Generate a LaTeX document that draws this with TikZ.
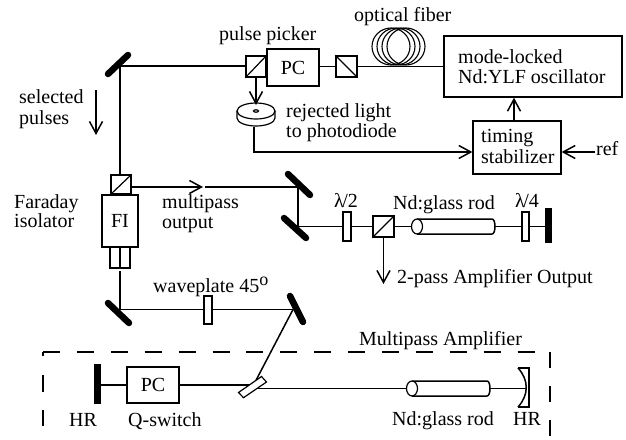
\documentclass[tikz,border=0pt]{standalone}
\usepackage{fontspec}
\setmainfont{Liberation Serif}
\usetikzlibrary{arrows.meta}
\tikzset{
 x=1pt,y=-1pt,
 beam/.style={line width=1.5pt},
 thin line/.style={line width=1.2pt},
 frame/.style={draw,line width=1.3pt,fill=white,inner sep=0pt,font=\fontsize{20}{20}\selectfont},
 lab/.style={inner sep=0pt,anchor=base west,font=\fontsize{20}{20}\selectfont},
 tip/.style={-{Straight Barb[length=12pt,width=13pt,line width=1.5pt]}},
 mirror/.style={line width=6.5pt,line cap=round},
 bar/.style={line width=7pt},
 dashseg/.style={line width=1.6pt},
 rod/.pic={
  \draw[line width=1.5pt,fill=white] (0,-7.5) -- (#1-2,-7.5) .. controls (#1+2,-7.5) and (#1+2,7.5) .. (#1-2,7.5) -- (0,7.5);
  \draw[line width=1.2pt,fill=white] (0,0) ellipse (5.5 and 7.5);
 }
}
\begin{document}
\begin{tikzpicture}
\useasboundingbox (0,0) rectangle (626,439);
% top line
\coordinate (m1) at (120,66);
\coordinate (m2) at (120,309.5);
\coordinate (m3) at (293,309.5);
\coordinate (m4) at (298,187);
\coordinate (m5) at (298,226.5);
\node[frame,minimum width=20pt,minimum height=21pt] (c1) at (256,66.5) {};
\node[frame,minimum width=52pt,minimum height=37pt] (pc1) at (293,67.5) {PC};
\node[frame,minimum width=21pt,minimum height=21pt] (c2) at (346.5,66.5) {};
\draw[thin line] (c1.south west) -- (c1.north east);
\draw[thin line] (c2.north west) -- (c2.south east);
\node[frame,minimum width=178pt,minimum height=61pt] (osc) at (533,66.5) {};
\node[frame,minimum width=88pt,minimum height=53pt] (ts) at (517,147.5) {};
\draw[mirror] (108,74) -- (128,55);
\draw[beam] (m1) -- (c1.west |- m1);
\draw[beam] (pc1.east |- c2.east) -- (c2.west);
\foreach \x in {391,396,401,406} \draw[line width=1.1pt] (\x,46.5) ellipse (19 and 18.5);
\draw[beam] (c2.east) -- (osc.west);
% photodiode
\draw[thin line] (237,111) -- (237,118) arc[start angle=180,end angle=0,x radius=19,y radius=8] -- (275,118) -- (275,111);
\draw[thin line,fill=white] (256,111) coordinate (pd) ellipse (19 and 8);
\draw[thin line] (256,111) ellipse (2.5 and 1.2);
\draw[beam,tip] (c1.south) -- (pd |- 0,105);
\coordinate (pdb) at (254,127);
\coordinate (ts1) at (ts.west |- 0,152);
\draw[beam,tip] (pdb) -- (pdb |- ts1) -- (ts1);
\draw[beam,tip] (ts.north -| 514,0) -- (osc.south -| 514,0);
\coordinate (refe) at (595,152);
\draw[beam,tip] (refe) -- (ts.east |- refe);
% texts top
\node[lab] at (219,40) {pulse picker};
\node[lab] at (354,21) {optical fiber};
\node[lab] at (286,117) {rejected light};
\node[lab] at (286,137) {to photodiode};
\node[lab] at (458,63) {mode-locked};
\node[lab] at (458,83) {Nd:YLF oscillator};
\node[lab] at (481,142) {timing};
\node[lab] at (481,163) {stabilizer};
\node[lab] at (596,155) {ref};
\node[lab] at (19,103) {selected};
\node[lab] at (19,124) {pulses};
\node[lab] at (14,208) {Faraday};
\node[lab] at (14,227) {isolator};
\node[lab] at (162,208) {multipass};
\node[lab] at (162,228) {output};
% selected arrow
\coordinate (sa) at (96,90);
\coordinate (sb) at (96,135);
\draw[beam,tip] (sa) -- (sb);
% FI
\node[frame,minimum width=20pt,minimum height=19pt] (c3) at (121,184.5) {};
\draw[thin line] (c3.south west) -- (c3.north east);
\node[frame,minimum width=36pt,minimum height=52pt] (fi) at (120,221) {FI};
\node[frame,minimum width=20pt,minimum height=21pt] (fib) at (120,257.5) {};
\draw[thin line] (fib.north) -- (fib.south);
\draw[beam] (m1) -- (c3.north -| m1);
% multipass output line
\coordinate (ma) at (203,187);
\coordinate (mb) at (205,187);
\draw[beam,tip] (c3.east |- ma) -- (ma);
\draw[beam] (mb) -- (m4) -- (m5);
\draw[mirror] (288,174) -- (310,195);
\draw[mirror] (284,218) -- (306,238);
% 2-pass arm
\node[frame,minimum width=8pt,minimum height=29pt] (wp2) at (347,226.5) {};
\node[frame,minimum width=21pt,minimum height=21pt] (c4) at (383.5,226.5) {};
\draw[thin line] (c4.south west) -- (c4.north east);
\node[frame,minimum width=7pt,minimum height=29pt] (wp4) at (525.5,226.5) {};
\coordinate (rod1) at (417,226.5);
\coordinate (bar1) at (548.5,226.5);
\draw[beam] (m5) -- (wp2.west);
\draw[beam] (wp2.east) -- (c4.west);
\draw[beam] (c4.east) -- (rod1);
\draw[beam] (rod1) -- (wp4.west);
\draw[beam] (wp4.east) -- (bar1);
\pic at (rod1) {rod=77};
\draw[bar] (548.5,208) -- (548.5,243);
\coordinate (oa) at (383.5,284);
\draw[beam,tip] (c4.south) -- (oa);
\node[lab] at (334,207) {λ\kern-1.5pt/2};
\node[lab] at (393,209) {Nd:glass rod};
\node[lab] at (515,207) {λ\kern-1.5pt/4};
\node[lab] at (397,283) {2-pass Amplifier Output};
% lower path
\draw[beam] (fib.south |- 0,271) -- (m2) -- (m3);
\node[frame,minimum width=8pt,minimum height=28pt] (wp) at (208,310) {};
\draw[mirror] (108,303) -- (129,323);
\draw[mirror] (290,296) -- (303,322);
\node[lab] at (153,292) {waveplate 45\raisebox{7pt}{\fontsize{18}{18}\selectfont o}};
% multipass
\coordinate (pl) at (252.5,387);
\node[frame,minimum width=52pt,minimum height=36pt] (pc2) at (153,385) {PC};
\draw[beam] (97.5,385) -- (pc2.west);
\draw[beam] (pc2.east) -- (pl |- pc2.east);
\draw[bar] (97.5,364) -- (97.5,404);
\draw[beam] (m3) -- (pl);
\coordinate (rod2) at (412,388.5);
\coordinate (hr) at (527,388.5);
\draw[beam] (pl |- rod2) -- (hr);
\draw[thin line,fill=white] (238.5,392.5) -- (261.5,376.5) -- (266.5,382) -- (243.5,397.7) -- cycle;
\pic at (rod2) {rod=77};
\draw[beam] (518,368) -- (529,368) -- (529,407) -- (518,407);
\draw[beam] (518,368) .. controls (529,380) and (529,395) .. (518,407);
\node[lab] at (359,345) {Multipass Amplifier};
\node[lab] at (69,426) {HR};
\node[lab] at (128,426) {Q-switch};
\node[lab] at (392,425) {Nd:glass rod};
\node[lab] at (513,425) {HR};
% dashed frame
\foreach \a in {0,...,14} \draw[dashseg] ({43+33.9*\a},352) -- ({60+33.9*\a},352);
\draw[dashseg] (43,352) -- (43,356);
\draw[dashseg] (43,375) -- (43,392);
\draw[dashseg] (43,410) -- (43,426);
\draw[dashseg] (550,352) -- (550,368);
\draw[dashseg] (550,386) -- (550,402);
\draw[dashseg] (550,420) -- (550,436);
\end{tikzpicture}
\end{document}
